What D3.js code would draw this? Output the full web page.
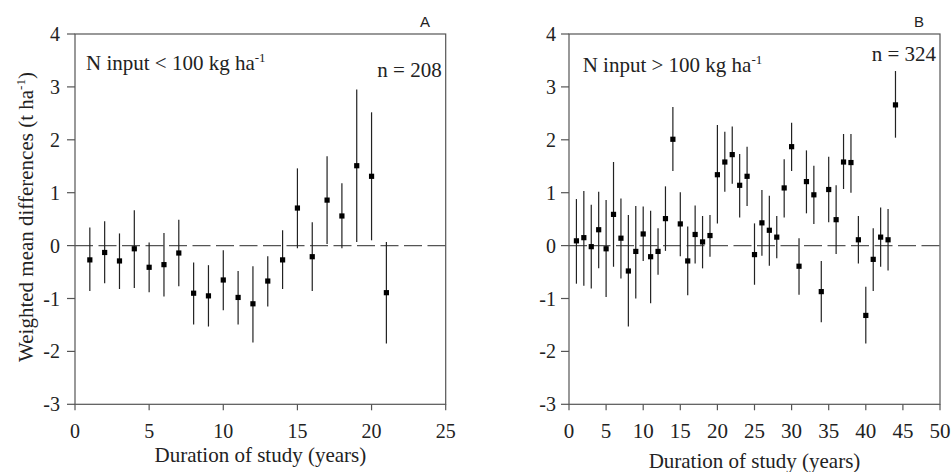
<!DOCTYPE html>
<html><head><meta charset="utf-8">
<script src="https://cdn.jsdelivr.net/npm/d3@7"></script>
</head>
<body style="margin:0;background:#fff">
<svg id="c" width="951" height="472"></svg>
<script>
// Panel A: N input < 100 kg/ha
const yearsA = [1,2,3,4,5,6,7,8,9,10,11,12,13,14,15,16,17,18,19,20,21];
const meanA  = [-0.27,-0.13,-0.29,-0.06,-0.41,-0.36,-0.14,-0.90,-0.95,-0.65,-0.98,-1.10,-0.67,-0.27,0.71,-0.21,0.86,0.56,1.51,1.31,-0.89];
const lowA   = [-0.86,-0.71,-0.82,-0.80,-0.88,-0.96,-0.77,-1.49,-1.53,-1.22,-1.49,-1.83,-1.15,-0.82,-0.05,-0.86,0.03,-0.05,0.07,0.10,-1.85];
const highA  = [0.34,0.46,0.23,0.67,0.06,0.24,0.49,-0.32,-0.37,-0.09,-0.48,-0.39,-0.20,0.29,1.46,0.44,1.69,1.18,2.95,2.52,0.07];

// Panel B: N input > 100 kg/ha
const yearsB = [1,2,3,4,5,6,7,8,9,10,11,12,13,14,15,16,17,18,19,20,21,22,23,24,25,26,27,28,29,30,31,32,33,34,35,36,37,38,39,40,41,42,43,44];
const meanB  = [0.09,0.15,-0.02,0.30,-0.06,0.59,0.14,-0.48,-0.11,0.22,-0.21,-0.11,0.51,2.01,0.41,-0.29,0.21,0.07,0.19,1.34,1.58,1.72,1.14,1.31,-0.17,0.43,0.29,0.16,1.09,1.87,-0.39,1.21,0.96,-0.87,1.06,0.49,1.58,1.57,0.11,-1.32,-0.26,0.16,0.11,2.66];
const highB  = [0.88,1.03,0.77,1.02,0.86,1.58,0.89,0.58,0.75,0.74,0.66,0.33,1.12,2.62,1.01,0.36,0.76,0.56,0.58,2.28,2.15,2.25,1.73,1.87,0.42,1.05,0.94,0.56,1.63,2.32,0.14,1.80,1.51,-0.29,1.68,1.14,2.11,2.11,0.56,-0.78,0.33,0.72,0.69,3.30];
const lowB   = [-0.72,-0.76,-0.81,-0.43,-0.97,-0.40,-0.62,-1.53,-1.00,-0.29,-1.09,-0.55,-0.10,1.41,-0.20,-0.94,-0.34,-0.43,-0.21,0.42,1.02,1.17,0.53,0.75,-0.74,-0.19,-0.38,-0.24,0.53,1.41,-0.93,0.61,0.41,-1.45,0.44,-0.16,1.07,1.00,-0.34,-1.85,-0.86,-0.40,-0.47,2.04];

const yTicks = [-3,-2,-1,0,1,2,3,4];
const xTicksA = [0,5,10,15,20,25];
const xTicksB = [0,5,10,15,20,25,30,35,40,45,50];

const svg = d3.select("#c");
const yTop = 34, yBot = 404.3;
const fmt = d => String(d);

function serifText(sel, size){
  return sel.style("font-family", d => "'Liberation Serif'").style("font-size", size + "px").attr("fill", "#222");
}

function panel(cfg){
  const x = d3.scaleLinear().domain(cfg.xDomain).range([cfg.left, cfg.right]);
  const y = d3.scaleLinear().domain([-3,4]).range([yBot, yTop]);
  const g = svg.append("g");

  g.append("rect").attr("x", cfg.left).attr("y", yTop)
    .attr("width", cfg.right-cfg.left).attr("height", yBot-yTop)
    .attr("fill","none").attr("stroke","#555").attr("stroke-width",1.2);

  g.append("line").attr("x1", x(cfg.xDomain[0])).attr("x2", x(cfg.xDomain[1]))
    .attr("y1", y(0)).attr("y2", y(0))
    .attr("stroke","#555").attr("stroke-width",1.2).attr("stroke-dasharray","18,5.5");

  // x ticks (drawn from the scale)
  g.selectAll("line.xt").data(cfg.xTicks).enter().append("line").attr("class","xt")
    .attr("x1", d=>x(d)).attr("x2", d=>x(d)).attr("y1", yBot).attr("y2", yBot+6)
    .attr("stroke","#555").attr("stroke-width",1.2);
  serifText(g.selectAll("text.xl").data(cfg.xTicks).enter().append("text").attr("class","xl")
    .attr("x", d=>x(d)).attr("y", yBot+34).attr("text-anchor","middle").text(fmt), cfg.xFont);

  // y ticks
  g.selectAll("line.yt").data(yTicks).enter().append("line").attr("class","yt")
    .attr("x1", cfg.left-8).attr("x2", cfg.left).attr("y1", d=>y(d)).attr("y2", d=>y(d))
    .attr("stroke","#555").attr("stroke-width",1.2);
  serifText(g.selectAll("text.yl").data(yTicks).enter().append("text").attr("class","yl")
    .attr("x", cfg.left-8-cfg.yPad).attr("y", d=>y(d)+7).attr("text-anchor","end").text(fmt), 20);

  const data = cfg.years.map((yr,i)=>({yr, m:cfg.mean[i], lo:cfg.low[i], hi:cfg.high[i]}));
  g.selectAll("line.err").data(data).enter().append("line").attr("class","err")
    .attr("x1", d=>x(d.yr)).attr("x2", d=>x(d.yr))
    .attr("y1", d=>y(d.lo)).attr("y2", d=>y(d.hi))
    .attr("stroke","#222").attr("stroke-width",1.2);
  g.selectAll("rect.pt").data(data).enter().append("rect").attr("class","pt")
    .attr("x", d=>x(d.yr)-2.6).attr("y", d=>y(d.m)-2.6)
    .attr("width",5.2).attr("height",5.2).attr("fill","#000");

  serifText(g.append("text").attr("x",(cfg.left+cfg.right)/2).attr("y",cfg.xTitleY)
    .attr("text-anchor","middle").text("Duration of study (years)"), 21);

  const t = serifText(g.append("text").attr("x", cfg.annX).attr("y", cfg.annY), 21);
  t.append("tspan").text(cfg.annText);
  t.append("tspan").attr("dy",-8).style("font-size","13px").text("-1");

  serifText(g.append("text").attr("x", cfg.right-4).attr("y", cfg.nY).attr("text-anchor","end").text(cfg.nText), 21);

  g.append("text").attr("x", cfg.letterX).attr("y", 27).attr("text-anchor","middle")
    .style("font-family", "'Liberation Sans'").style("font-size","15px").attr("fill","#222")
    .text(cfg.letter);
}

panel({xDomain:[0,25], left:75, right:445.7, xTicks:xTicksA, years:yearsA, mean:meanA, low:lowA, high:highA,
  xFont:20, yPad:7, xTitleY:461.5, annX:86, annY:70, annText:"N input < 100 kg ha", nY:77, nText:"n = 208", letter:"A", letterX:425});
panel({xDomain:[0,50], left:569, right:940, xTicks:xTicksB, years:yearsB, mean:meanB, low:lowB, high:highB,
  xFont:21, yPad:5, xTitleY:467.5, annX:582.7, annY:72, annText:"N input > 100 kg ha", nY:61, nText:"n = 324", letter:"B", letterX:919});

const yt = serifText(svg.append("text").attr("transform","translate(33,217) rotate(-90)")
  .attr("text-anchor","middle"), 21);
yt.append("tspan").text("Weighted mean differences (t ha");
yt.append("tspan").attr("dy",-8).style("font-size","13px").text("-1");
yt.append("tspan").attr("dy",8).text(")");
</script>
</body></html>
